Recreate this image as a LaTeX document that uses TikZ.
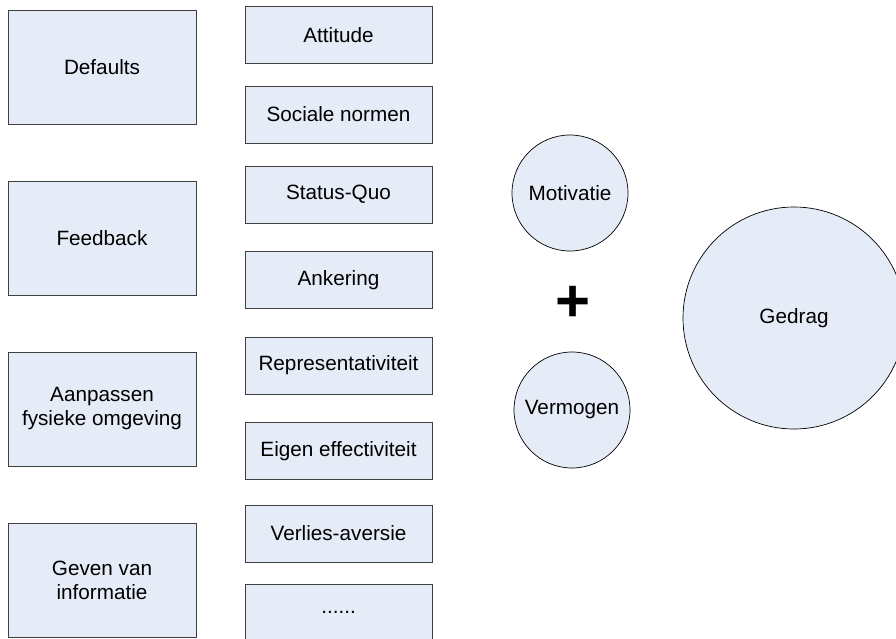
\documentclass[tikz,border=0pt]{standalone}
\usepackage{fontspec}
\setmainfont{Liberation Sans}
\begin{document}
\begin{tikzpicture}[x=1pt,y=-1pt,
  every node/.style={font=\fontsize{20.7}{24}\selectfont, text=black},
  bigbox/.style={draw={rgb,255:red,64;green,64;blue,64}, line width=0.9pt, fill={rgb,255:red,230;green,236;blue,247}, minimum width=188pt, minimum height=114pt, inner sep=0pt, align=center},
  smallbox/.style={draw={rgb,255:red,64;green,64;blue,64}, line width=0.9pt, fill={rgb,255:red,230;green,236;blue,247}, minimum width=187pt, minimum height=57pt, inner sep=0pt, align=center},
  bubble/.style={circle, draw=black, line width=0.7pt, fill={rgb,255:red,230;green,236;blue,247}, inner sep=0pt}
]
\useasboundingbox (0,0) rectangle (896,639);
% left column
\node[bigbox] (defaults) at (102,67) {Defaults};
\node[bigbox] (feedback) at (102,238) {Feedback};
\node[bigbox] (aanpassen) at (102,409) {Aanpassen\\fysieke omgeving};
\node[bigbox] (geven) at (102,580) {Geven van\\informatie};
% right column
\node[smallbox] (attitude) at (338.5,35) {Attitude};
\node[smallbox] (sociale) at (338.5,114.5) {Sociale normen};
\node[smallbox] (status) at (338.5,194.5) {Status-Quo};
\node[smallbox] (ankering) at (338.5,280) {Ankering};
\node[smallbox] (repr) at (338.5,365.5) {Representativiteit};
\node[smallbox] (eigen) at (338.5,451) {Eigen effectiviteit};
\node[smallbox] (verlies) at (338.5,533.5) {Verlies-aversie};
\node[smallbox] (dots) at (338.5,612.5) {......};
% circles
\node[bubble, minimum size=116pt] (motivatie) at (570,193) {Motivatie};
\node[bubble, minimum size=116pt] (vermogen) at (572,410) {Vermogen};
\node[bubble, minimum size=222pt] (gedrag) at (794,318) {Gedrag};
\node[font=\fontsize{60}{60}\selectfont\bfseries, inner sep=0pt] (plus) at (573,304) {+};
\end{tikzpicture}
\end{document}
